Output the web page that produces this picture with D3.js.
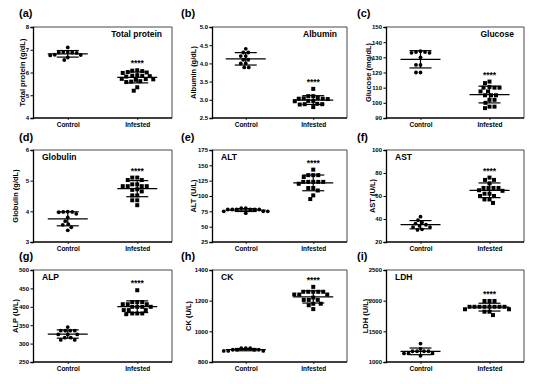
<!DOCTYPE html>
<html>
<head>
<meta charset="utf-8">
<script src="https://cdn.jsdelivr.net/npm/d3@7"></script>
<style>
  body { margin: 0; background: #fff; }
  svg { display: block; font-family: "Liberation Sans", Arial, sans-serif; }
  .axis text { font-weight: bold; fill: #000; }
  .axis path, .axis line { stroke: #000; }
</style>
</head>
<body>
<svg id="chart" width="550" height="384"></svg>
<script>

// Groups
const groups = ['Control', 'Infested']

// Panel texts
const letters = ['(a)', '(b)', '(c)', '(d)', '(e)', '(f)', '(g)', '(h)', '(i)']
const titles = ['Total protein', 'Albumin', 'Glucose', 'Globulin', 'ALT', 'AST', 'ALP', 'CK', 'LDH']
const y_titles = ['Total protein (g/dL)', 'Albumin (g/dL)', 'Glucose (mg/dL)', 'Globulin (g/dL)',
  'ALT (U/L)', 'AST (U/L)', 'ALP (U/L)', 'CK (U/L)', 'LDH (U/L)']

// Tick values
const ticks_tp = [4, 5, 6, 7, 8]
const ticks_alb = [2.5, 3.0, 3.5, 4.0, 4.5, 5.0]
const ticks_glu = [90, 100, 110, 120, 130, 140, 150]
const ticks_glob = [3, 4, 5, 6]
const ticks_alt = [25, 50, 75, 100, 125, 150, 175]
const ticks_ast = [20, 40, 60, 80, 100]
const ticks_alp = [250, 300, 350, 400, 450, 500]
const ticks_ck = [800, 1000, 1200, 1400]
const ticks_ldh = [1000, 1500, 2000, 2500]

// Values
const tp_control = [7.1, 6.9, 6.9, 6.88, 6.86, 6.88, 6.77, 6.75, 6.78, 6.66, 6.55]
const tp_infested = [6.1, 6.08, 6.06, 6.0, 5.98, 6.02, 5.86, 5.84, 5.88, 5.85, 5.82,
  5.72, 5.7, 5.68, 5.71, 5.6, 5.58, 5.62, 5.35, 5.2]
const alb_control = [4.4, 4.3, 4.3, 4.2, 4.2, 4.1, 4.1, 4.0, 4.0, 3.89, 3.89]
const alb_infested = [3.3, 3.1, 3.1, 3.03, 3.03, 3.02, 3.04, 3.05, 2.97, 2.97, 2.96,
  2.88, 2.88, 2.87, 2.89, 2.8]
const glu_control = [134, 133.5, 133.5, 133, 133, 130, 125, 125, 120, 120]
const glu_infested = [114, 113, 110, 110, 110, 107.5, 107.5, 105, 105, 105, 102, 102,
  100, 97.5, 97.5, 96.5, 110.5]
const glob_control = [3.99, 3.98, 3.98, 3.97, 3.92, 3.8, 3.68, 3.58, 3.56, 3.48, 3.38]
const glob_infested = [5.1, 5.1, 5.02, 5.02, 4.88, 4.88, 4.82, 4.82, 4.82, 4.82, 4.72,
  4.52, 4.52, 4.36, 4.36, 4.2, 4.7, 4.65]
const alt_control = [78, 78, 78, 78, 78, 78, 80, 80, 75, 75, 75, 72]
const alt_infested = [143, 134, 134, 134, 131, 123, 123, 123, 123, 123, 113, 113, 109,
  101, 95, 120]
const ast_control = [42, 39, 37, 36, 35, 34, 33, 33, 31, 30.5]
const ast_infested = [76, 74, 74, 71, 67, 67, 67, 67, 64.5, 62, 62, 60, 60, 57, 57, 54, 65]
const alp_control = [345, 335, 335, 335, 335, 325, 325, 325, 316, 316, 310, 310]
const alp_infested = [445, 413, 413, 413, 407, 407, 407, 400, 400, 400, 400, 391, 391,
  391, 382, 382, 382, 380]
const ck_control = [890, 890, 890, 880, 880, 880, 880, 872, 872, 872]
const ck_infested = [1290, 1258, 1258, 1258, 1258, 1258, 1240, 1240, 1240, 1220, 1205,
  1205, 1205, 1180, 1180, 1170, 1145]
const ldh_control = [1300, 1215, 1175, 1175, 1175, 1175, 1140, 1140, 1140, 1100]
const ldh_infested = [1995, 1995, 1995, 1900, 1900, 1900, 1900, 1900, 1900, 1900, 1900,
  1860, 1860, 1820, 1820, 1765]

const panel_data = [
  [tp_control, tp_infested, ticks_tp],
  [alb_control, alb_infested, ticks_alb],
  [glu_control, glu_infested, ticks_glu],
  [glob_control, glob_infested, ticks_glob],
  [alt_control, alt_infested, ticks_alt],
  [ast_control, ast_infested, ticks_ast],
  [alp_control, alp_infested, ticks_alp],
  [ck_control, ck_infested, ticks_ck],
  [ldh_control, ldh_infested, ticks_ldh]
]

// Layout
const cols = [
  { x0: 33, x1: 172, label_x: 19, ytitle_x: 22 },
  { x0: 212, x1: 347, label_x: 181, ytitle_x: 193 },
  { x0: 386, x1: 524, label_x: 357, ytitle_x: 368 }
]
const rows = [
  { y0: 27, y1: 118, label_y: 17 },
  { y0: 150, y1: 242, label_y: 141 },
  { y0: 270, y1: 362, label_y: 260 }
]
const ytitle_x_override = { 3: 15, 5: 372, 6: 15, 7: 188, 8: 365 }
const style = {
  font_tick: 6,
  font_cat: 6.5,
  font_ytitle: 7.5,
  font_title: 8.5,
  font_letter: 11,
  font_star: 8.5,
  sq: 4,
  r: 1.9,
  mean_half: 20,
  sd_half: 11
}

const svg = d3.select('#chart')

// Simple beeswarm: spread points sideways when they would overlap
function swarm(vals, y, cx, D) {
  let pts = vals.map(v => ({ v: v, py: y(v) }))
    .sort((a, b) => b.v - a.v)
  let placed = []
  for (let p of pts) {
    let k = 0
    while (true) {
      let off = (k % 2 === 0 ? 1 : -1) * Math.ceil(k / 2) * 0.5
      let ok = placed.every(q => {
        let dx = q.px - (cx + off)
        let dy = q.py - p.py
        return dx * dx + dy * dy >= D * D
      })
      if (ok) { p.px = cx + off; break }
      k++
    }
    placed.push(p)
  }
  return placed
}

for (let [i, [ctrl, inf, ticks]] of panel_data.entries()) {

  let col = cols[i % 3]
  let row = rows[Math.floor(i / 3)]

  let x = d3.scalePoint()
    .domain(groups)
    .range([col.x0, col.x1])
    .padding(0.5)
  let y = d3.scaleLinear()
    .domain([ticks[0], ticks[ticks.length - 1]])
    .range([row.y1, row.y0])

  let g = svg.append('g').attr('class', 'panel')

  // Frame top and right
  g.append('path')
    .attr('d', `M${col.x0},${row.y0}H${col.x1}V${row.y1}`)
    .attr('fill', 'none')
    .attr('stroke', '#333')
    .attr('stroke-width', 0.9)

  // Y axis
  let fmt = ticks.some(t => t % 1 !== 0) ? d3.format('.1f') : d3.format('d')
  let ya = g.append('g')
    .attr('class', 'axis')
    .attr('transform', `translate(${col.x0},0)`)
    .call(d3.axisLeft(y).tickValues(ticks).tickSize(2.5).tickPadding(1.5).tickFormat(fmt))
  ya.select('.domain').attr('stroke-width', 1.3)
  ya.selectAll('.tick line').attr('stroke-width', 1)
  ya.selectAll('text').style('font-size', style.font_tick + 'px')

  // X axis
  let xa = g.append('g')
    .attr('class', 'axis')
    .attr('transform', `translate(0,${row.y1})`)
    .call(d3.axisBottom(x).tickSizeOuter(0).tickSize(2).tickPadding(2))
  xa.select('.domain')
    .attr('d', `M${col.x0},0H${col.x1}`)
    .attr('stroke-width', 1.3)
  xa.selectAll('.tick line').attr('stroke-width', 0.8)
  xa.selectAll('text').style('font-size', style.font_cat + 'px')

  // Panel letter
  svg.append('text')
    .attr('x', col.label_x)
    .attr('y', row.label_y)
    .style('font-size', style.font_letter + 'px')
    .style('font-weight', 'bold')
    .text(letters[i])

  // Title inside plot
  let top_row = i < 3
  g.append('text')
    .attr('x', top_row ? col.x1 - 10 : col.x0 + 9)
    .attr('y', row.y0 + 10)
    .attr('text-anchor', top_row ? 'end' : 'start')
    .style('font-size', style.font_title + 'px')
    .style('font-weight', 'bold')
    .text(titles[i])

  // Y title
  let tx = ytitle_x_override[i] !== undefined ? ytitle_x_override[i] : col.ytitle_x
  let ty = (row.y0 + row.y1) / 2
  g.append('text')
    .attr('transform', `translate(${tx},${ty}) rotate(-90)`)
    .attr('text-anchor', 'middle')
    .attr('dominant-baseline', 'central')
    .style('font-size', style.font_ytitle + 'px')
    .style('font-weight', 'bold')
    .text(y_titles[i])

  // Points, mean and SD
  for (let [gi, vals] of [ctrl, inf].entries()) {
    let cx = x(groups[gi])
    let m = d3.mean(vals)
    let sd = d3.deviation(vals)

    let pts = swarm(vals, y, cx, gi === 0 ? 4.2 : 4.7)
    if (gi === 0) {
      g.selectAll(null)
        .data(pts)
        .enter()
        .append('circle')
          .attr('cx', d => d.px)
          .attr('cy', d => d.py)
          .attr('r', style.r)
          .attr('fill', '#000')
    } else {
      g.selectAll(null)
        .data(pts)
        .enter()
        .append('rect')
          .attr('x', d => d.px - style.sq / 2)
          .attr('y', d => d.py - style.sq / 2)
          .attr('width', style.sq)
          .attr('height', style.sq)
          .attr('fill', '#000')
    }

    let line = g.append('g')
      .attr('stroke', '#000')
      .attr('stroke-width', 1.2)
    line.append('line')
      .attr('x1', cx - style.mean_half).attr('x2', cx + style.mean_half)
      .attr('y1', y(m)).attr('y2', y(m))
    line.append('line')
      .attr('x1', cx).attr('x2', cx)
      .attr('y1', y(m + sd)).attr('y2', y(m - sd))
    for (let s of [m + sd, m - sd]) {
      line.append('line')
        .attr('x1', cx - style.sd_half).attr('x2', cx + style.sd_half)
        .attr('y1', y(s)).attr('y2', y(s))
    }

    // Significance stars above infested group
    if (gi === 1) {
      g.append('text')
        .attr('x', cx)
        .attr('y', y(d3.max(vals)) - 4)
        .attr('text-anchor', 'middle')
        .style('font-size', style.font_star + 'px')
        .style('font-weight', 'bold')
        .text('****')
    }
  }
}

</script>
</body>
</html>
